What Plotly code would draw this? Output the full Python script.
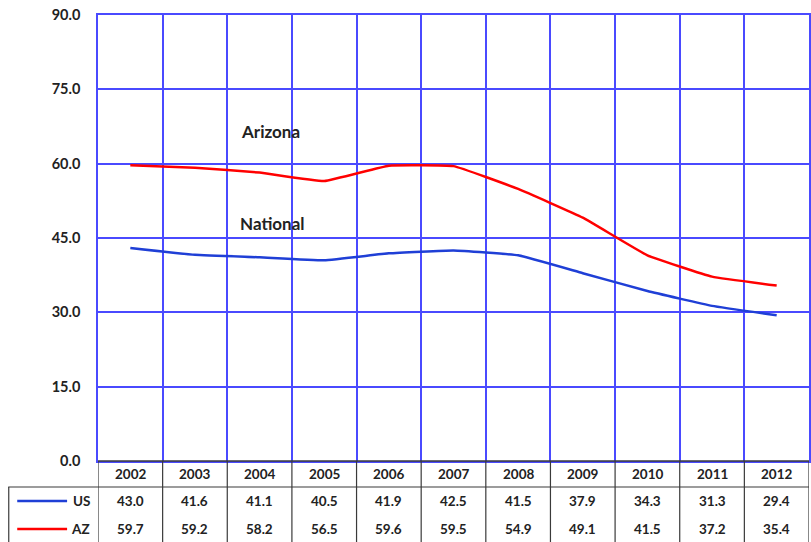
import plotly.graph_objects as go

years = [2002, 2003, 2004, 2005, 2006, 2007, 2008, 2009, 2010, 2011, 2012]
us = [43.0, 41.6, 41.1, 40.5, 41.9, 42.5, 41.5, 37.9, 34.3, 31.3, 29.4]
az = [59.7, 59.2, 58.2, 56.5, 59.6, 59.5, 54.9, 49.1, 41.5, 37.2, 35.4]
series_names = ["US", "AZ"]
series_colors = ["#1f3fd6", "#ff0000"]
line_labels = ["Arizona", "National"]

W, H = 811, 542
L, T, R, B = 98, 15, 811, 461
PW, PH = R - L, B - T
FONT = "Lato"

def py(p):
    return (B - p) / PH

def px(p):
    return (p - L) / PW

fig = go.Figure()
for name, vals, col in zip(series_names, [us, az], series_colors):
    fig.add_trace(go.Scatter(x=years, y=vals, mode="lines", name=name,
                             line=dict(color=col, width=2.5, shape="spline", smoothing=0.3),
                             showlegend=False))

grid = "#4a4aff"
fig.update_xaxes(range=[years[0] - 0.5, years[-1] + 0.5], tick0=years[0] - 0.5, dtick=1,
                 showgrid=True, gridcolor=grid, gridwidth=1.5, showticklabels=False,
                 showline=True, mirror=True, linecolor=grid, linewidth=1.5, zeroline=False,
                 ticks="")
fig.update_yaxes(range=[0, 90], dtick=15, tickformat=".1f", showgrid=True, gridcolor=grid,
                 gridwidth=1.5, showline=True, mirror=True, linecolor=grid, linewidth=1.5,
                 zeroline=False, ticks="", ticklabelstandoff=13,
                 tickfont=dict(family=FONT, size=14.5, color="#222", weight="bold"))

shapes = []
dark = "#3a3a3a"
shapes.append(dict(type="line", xref="paper", yref="paper", x0=0, x1=1, y0=0, y1=0,
                   line=dict(color=dark, width=1.5)))
shapes.append(dict(type="line", xref="paper", yref="paper", x0=px(8), x1=1, y0=py(487), y1=py(487),
                   line=dict(color=dark, width=1.2)))
shapes.append(dict(type="line", xref="paper", yref="paper", x0=px(8.5), x1=px(8.5), y0=py(487), y1=py(545),
                   line=dict(color=dark, width=1.2)))
for i in range(len(years) + 1):
    shapes.append(dict(type="line", xref="x", yref="paper", x0=years[0] - 0.5 + i, x1=years[0] - 0.5 + i,
                       y0=0, y1=py(545), line=dict(color=dark, width=1.2)))
for name, col, yp in zip(series_names, series_colors, [501, 529]):
    shapes.append(dict(type="line", xref="paper", yref="paper", x0=px(17), x1=px(67), y0=py(yp), y1=py(yp),
                       line=dict(color=col, width=2.5)))

ann = []
tf = dict(family=FONT, size=13.5, color="#222", weight="bold")
for i, yr in enumerate(years):
    for txt, yp in [(str(yr), 474), (f"{us[i]:.1f}", 501), (f"{az[i]:.1f}", 529)]:
        ann.append(dict(x=yr, y=py(yp), xref="x", yref="paper", text=txt, showarrow=False,
                        xanchor="center", yanchor="middle", font=tf))
for name, yp in zip(series_names, [501, 529]):
    ann.append(dict(x=px(92), y=py(yp), xref="paper", yref="paper", text=name, showarrow=False,
                    xanchor="right", yanchor="middle", font=tf))
lf = dict(family=FONT, size=17, color="#222", weight="bold")
ann.append(dict(x=px(239), y=py(131), xref="paper", yref="paper", text=line_labels[0], showarrow=False,
                xanchor="left", yanchor="middle", font=lf))
ann.append(dict(x=px(238), y=py(223), xref="paper", yref="paper", text=line_labels[1], showarrow=False,
                xanchor="left", yanchor="middle", font=lf))

fig.update_layout(width=W, height=H, margin=dict(l=L, r=W - R, t=T, b=H - B),
                  plot_bgcolor="white", paper_bgcolor="white", shapes=shapes, annotations=ann)
fig.write_html("out.html", config={"displayModeBar": False},
               post_script="document.body.style.margin='0';document.body.style.overflow='hidden';")
